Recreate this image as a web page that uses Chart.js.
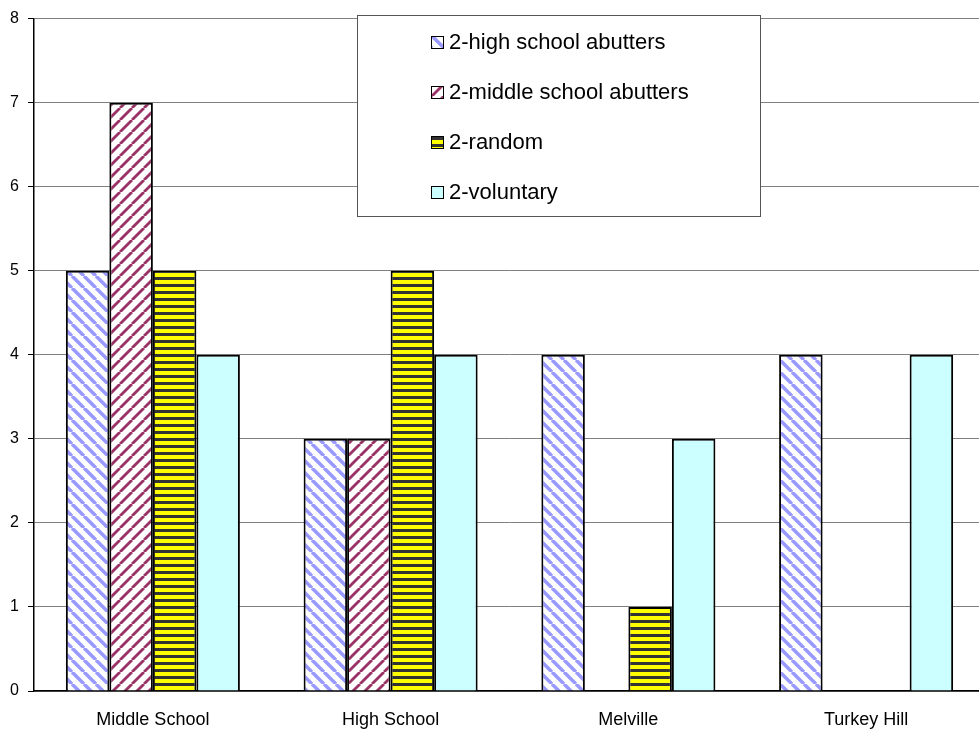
<!DOCTYPE html>
<html lang="en">
<head>
    <meta charset="UTF-8">
    <title>Schools chart</title>
    <style>
        body {
            margin: 0;
            background: #fff;
            overflow: hidden;
        }
        .frame {
            width: 979px;
            height: 732px;
            overflow: hidden;
        }
    </style>
    <script src="https://cdn.jsdelivr.net/npm/chart.js"></script>
</head>
<body>
    <div class="frame">
        <canvas id="barChart" width="990" height="732"></canvas>
    </div>
    <script>
        const categories = ['Middle School', 'High School', 'Melville', 'Turkey Hill'];
        const seriesNames = ['2-high school abutters', '2-middle school abutters', '2-random', '2-voluntary'];
        const highAbutters = [5, 3, 4, 4];
        const middleAbutters = [7, 3, 0, 0];
        const randomPick = [5, 5, 1, 0];
        const voluntary = [4, 4, 3, 4];
        const yTicks = [0, 1, 2, 3, 4, 5, 6, 7, 8];

        const FONT = '"Liberation Sans", Arial, sans-serif';

        // diagonal stripe tile, dir 1 = "\" , -1 = "/"
        function stripes(color, dir, w) {
            const s = 12;
            const c = document.createElement('canvas');
            c.width = s; c.height = s;
            const g = c.getContext('2d');
            g.fillStyle = '#fff';
            g.fillRect(0, 0, s, s);
            g.strokeStyle = color;
            g.lineWidth = w;
            for (let k = -s; k <= s; k += s) {
                g.beginPath();
                if (dir > 0) {
                    g.moveTo(k, 0); g.lineTo(k + s, s);
                } else {
                    g.moveTo(k, s); g.lineTo(k + s, 0);
                }
                g.stroke();
            }
            return g.createPattern(c, 'repeat');
        }

        function hbands() {
            const c = document.createElement('canvas');
            c.width = 7; c.height = 7;
            const g = c.getContext('2d');
            g.fillStyle = '#ffff00';
            g.fillRect(0, 0, 7, 7);
            g.fillStyle = '#333333';
            g.fillRect(0, 4, 7, 3);
            return g.createPattern(c, 'repeat');
        }

        const fills = [stripes('#9999ff', 1, 3.5), stripes('#993366', -1, 2.8), hbands(), '#ccffff'];
        const values = [highAbutters, middleAbutters, randomPick, voluntary];

        // legend box drawn inside the plot, like the original
        const boxLegend = {
            id: 'boxLegend',
            afterDraw(chart) {
                const ctx = chart.ctx;
                ctx.save();
                ctx.fillStyle = '#fff';
                ctx.fillRect(357, 15, 403, 201);
                ctx.strokeStyle = '#555';
                ctx.lineWidth = 1;
                ctx.strokeRect(357.5, 15.5, 403, 201);
                ctx.font = '22px ' + FONT;
                ctx.textBaseline = 'middle';
                chart.data.datasets.forEach((ds, i) => {
                    const y = 42 + i * 50;
                    ctx.fillStyle = ds.backgroundColor;
                    ctx.fillRect(431, y - 6, 13, 13);
                    ctx.strokeStyle = '#000';
                    ctx.strokeRect(431.5, y - 5.5, 12, 12);
                    ctx.fillStyle = '#000';
                    ctx.fillText(ds.label, 449, y + 1);
                });
                ctx.restore();
            }
        };

        new Chart(document.getElementById('barChart'), {
            type: 'bar',
            data: {
                labels: categories,
                datasets: seriesNames.map((name, i) => ({
                    label: name,
                    data: values[i],
                    backgroundColor: fills[i],
                    borderColor: '#000',
                    borderWidth: 2,
                    barPercentage: 1,
                    categoryPercentage: 0.732
                }))
            },
            options: {
                responsive: false,
                animation: false,
                devicePixelRatio: 1,
                layout: { padding: { top: 14, right: 5, left: 0, bottom: 0 } },
                plugins: {
                    legend: { display: false },
                    tooltip: { enabled: false }
                },
                scales: {
                    x: {
                        grid: { display: false },
                        border: { display: true, color: '#000', width: 1.5 },
                        ticks: {
                            color: '#000',
                            padding: 10,
                            font: { family: FONT, size: 18 }
                        },
                        afterFit(scale) { scale.height = 41; }
                    },
                    y: {
                        min: 0,
                        max: 8,
                        afterBuildTicks(scale) {
                            scale.ticks = yTicks.map(v => ({ value: v }));
                        },
                        grid: {
                            color: '#808080',
                            lineWidth: 1,
                            tickColor: '#000',
                            tickLength: 6
                        },
                        border: { display: true, color: '#000', width: 1.5 },
                        ticks: {
                            color: '#000',
                            padding: 9,
                            font: { family: FONT, size: 16 }
                        },
                        afterFit(scale) { scale.width = 34; }
                    }
                }
            },
            plugins: [boxLegend]
        });
    </script>
</body>
</html>
